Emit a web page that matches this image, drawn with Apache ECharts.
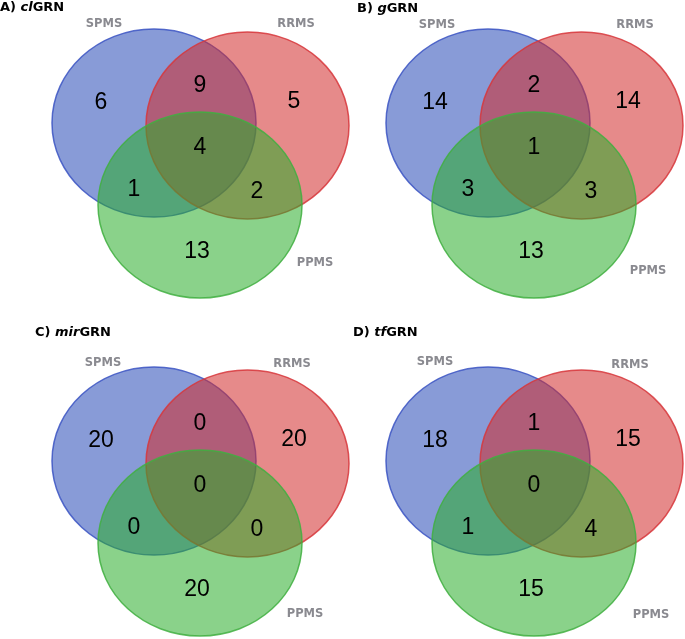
<!DOCTYPE html>
<html>
<head>
<meta charset="utf-8">
<script src="https://cdn.jsdelivr.net/npm/echarts@6/dist/echarts.min.js"></script>
<style>
html,body{margin:0;padding:0;background:#fff;}
#chart{width:685px;height:639px;}
</style>
</head>
<body>
<div id="chart"></div>
<script>
// ---------- DATA ----------
const panelLetters = ['A)', 'B)', 'C)', 'D)'];
const panelPrefixes = ['cl', 'g', 'mir', 'tf'];      // italic part of network name
const panelSuffix = 'GRN';
const setNames = ['SPMS', 'RRMS', 'PPMS'];
// regions: SPMS only, RRMS only, PPMS only, SPMS∩RRMS, SPMS∩PPMS, RRMS∩PPMS, all three
const regionNames = ['SPMS', 'RRMS', 'PPMS', 'SPMS∩RRMS', 'SPMS∩PPMS', 'RRMS∩PPMS', 'SPMS∩RRMS∩PPMS'];
const countsA = [6, 5, 13, 9, 1, 2, 4];
const countsB = [14, 14, 13, 2, 3, 3, 1];
const countsC = [20, 20, 20, 0, 0, 0, 0];
const countsD = [18, 15, 15, 1, 1, 4, 0];
const panelCounts = [countsA, countsB, countsC, countsD];

// ---------- LAYOUT (panel-local units) ----------
const panelOffsets = [[0, 0], [334, 0], [0, 338], [334, 338]];
const titlePos = [[0, 7], [357, 8], [35, 332], [353, 332]];
const circleGeom = [ // cx, cy, rx, ry
  [154, 123, 102, 94],
  [247.5, 125.5, 101.5, 93.5],
  [200, 205, 102, 93]
];
const regionPos = [[101, 103], [294, 102], [197, 252], [200, 86], [134, 190], [257, 192], [200, 148]];
const setLabelPos = [
  [[104, 24], [296, 24], [315, 263]],
  [[103, 25], [301, 25], [314, 271]],
  [[103, 25], [292, 26], [305, 276]],
  [[101, 24], [296, 27], [317, 277]]
];
const fills = ['rgba(39,73,182,0.55)', 'rgba(210,42,42,0.55)', 'rgba(42,173,42,0.55)'];
const strokes = ['rgba(60,85,195,0.85)', 'rgba(215,55,60,0.85)', 'rgba(65,175,65,0.85)'];

// ---------- build series data ----------
const circleData = [];
const countData = [];
const setLabelData = [];
for (let p = 0; p < 4; p++) {
  for (let s = 0; s < 3; s++) {
    circleData.push([p, s]);
    setLabelData.push([p, s]);
  }
  panelCounts[p].forEach((v, r) => countData.push([p, r, v]));
}

const chart = echarts.init(document.getElementById('chart'), null, {renderer: 'canvas'});
const option = {
  animation: false,
  backgroundColor: '#fff',
  grid: {left: 0, right: 0, top: 0, bottom: 0},
  xAxis: {type: 'value', min: 0, max: 685, show: false},
  yAxis: {type: 'value', min: 0, max: 639, inverse: true, show: false},
  title: panelLetters.map((l, i) => ({
    text: '{b|' + l + ' }{i|' + panelPrefixes[i] + '}{b|' + panelSuffix + '}',
    left: titlePos[i][0],
    top: titlePos[i][1] - 6,
    padding: 0,
    textStyle: {
      rich: {
        b: {fontFamily: 'DejaVu Sans', fontWeight: 'bold', fontSize: 13, color: '#000'},
        i: {fontFamily: 'DejaVu Sans', fontWeight: 'bold', fontStyle: 'italic', fontSize: 13, color: '#000'}
      }
    }
  })),
  series: [
    {
      type: 'custom',
      name: 'circles',
      coordinateSystem: 'cartesian2d',
      data: circleData,
      z: 2,
      renderItem: function (params, api) {
        const p = api.value(0), s = api.value(1);
        const g = circleGeom[s];
        const c = api.coord([panelOffsets[p][0] + g[0], panelOffsets[p][1] + g[1]]);
        const sz = api.size([g[2], g[3]]);
        return {
          type: 'ellipse',
          shape: {cx: c[0], cy: c[1], rx: sz[0], ry: sz[1]},
          style: {fill: fills[s], stroke: strokes[s], lineWidth: 1.5}
        };
      }
    },
    {
      type: 'custom',
      name: 'counts',
      coordinateSystem: 'cartesian2d',
      data: countData,
      z: 5,
      renderItem: function (params, api) {
        const p = api.value(0), r = api.value(1), v = api.value(2);
        const c = api.coord([panelOffsets[p][0] + regionPos[r][0], panelOffsets[p][1] + regionPos[r][1]]);
        return {
          type: 'text',
          x: c[0], y: c[1],
          style: {text: String(v), fontFamily: 'Liberation Sans', fontSize: 23, fill: '#000',
                  align: 'center', verticalAlign: 'middle'}
        };
      }
    },
    {
      type: 'custom',
      name: 'setLabels',
      coordinateSystem: 'cartesian2d',
      data: setLabelData,
      z: 5,
      renderItem: function (params, api) {
        const p = api.value(0), s = api.value(1);
        const pos = setLabelPos[p][s];
        const c = api.coord([panelOffsets[p][0] + pos[0], panelOffsets[p][1] + pos[1]]);
        return {
          type: 'text',
          x: c[0], y: c[1],
          style: {text: setNames[s], fontFamily: 'DejaVu Sans', fontWeight: 'bold', fontSize: 11.5,
                  fill: '#8a8a90', align: 'center', verticalAlign: 'middle'}
        };
      }
    }
  ]
};
chart.setOption(option);
</script>
</body>
</html>
